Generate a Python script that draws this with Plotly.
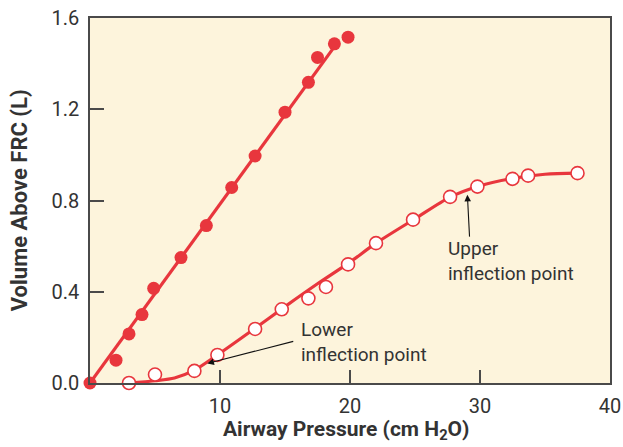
import plotly.graph_objects as go

# Filled points (first curve)
filled_pressure = [0, 2.0, 3.0, 4.0, 4.9, 7.0, 8.95, 10.9, 12.7, 15.0, 16.8, 17.5, 18.8, 19.85]
filled_volume = [0.0, 0.10, 0.215, 0.30, 0.415, 0.55, 0.69, 0.857, 0.995, 1.187, 1.318, 1.427, 1.487, 1.516]
filled_fit_pressure = [0, 19.0]
filled_fit_volume = [0, 1.49]

# Open points (second curve)
open_pressure = [3.0, 5.0, 8.03, 9.8, 12.7, 14.75, 16.8, 18.15, 19.85, 22.0, 24.85, 27.7, 29.8, 32.5, 33.7, 37.5]
open_volume = [0.0, 0.037, 0.053, 0.123, 0.237, 0.323, 0.371, 0.421, 0.52, 0.613, 0.716, 0.816, 0.861, 0.895, 0.909, 0.92]
open_fit_pressure = [3.0, 5.0, 6.5, 8.0, 9.8, 12.7, 15.0, 17.5, 20.0, 22.0, 25.0, 27.7, 30.0, 32.5, 35.0, 37.5]
open_fit_volume = [0.0, 0.01, 0.022, 0.055, 0.123, 0.24, 0.335, 0.435, 0.53, 0.613, 0.72, 0.815, 0.865, 0.897, 0.915, 0.92]

x_ticks = [10, 20, 30, 40]
y_ticks = [0.0, 0.4, 0.8, 1.2, 1.6]
y_tick_labels = ["0.0", "0.4", "0.8", "1.2", "1.6"]

RED = "#E8363D"
TXT = "#333333"
AX = "#4a4a4a"

fig = go.Figure()
fig.add_trace(go.Scatter(x=filled_fit_pressure, y=filled_fit_volume, mode="lines",
                         line=dict(color=RED, width=3.2), hoverinfo="skip"))
fig.add_trace(go.Scatter(x=open_fit_pressure, y=open_fit_volume, mode="lines",
                         line=dict(color=RED, width=3.2, shape="spline", smoothing=0.8), hoverinfo="skip"))
fig.add_trace(go.Scatter(x=filled_pressure, y=filled_volume, mode="markers", cliponaxis=False,
                         marker=dict(color=RED, size=13, line=dict(width=0))))
fig.add_trace(go.Scatter(x=open_pressure, y=open_volume, mode="markers", cliponaxis=False,
                         marker=dict(color="white", size=13, line=dict(color=RED, width=1.6))))

fig.add_annotation(x=9.03, y=0.086, ax=15.75, ay=0.184, axref="x", ayref="y", xref="x", yref="y",
                   text="", showarrow=True, arrowhead=2, arrowsize=1.2, arrowwidth=1.1, arrowcolor="#111")
fig.add_annotation(x=29.03, y=0.825, ax=29.2, ay=0.635, axref="x", ayref="y", xref="x", yref="y",
                   text="", showarrow=True, arrowhead=2, arrowsize=1.2, arrowwidth=1.1, arrowcolor="#111")
fig.add_annotation(x=16.1, y=0.293, xref="x", yref="y", xanchor="left", yanchor="top", align="left",
                   text="Lower<br>inflection point", showarrow=False,
                   font=dict(family="Roboto", size=19, color=TXT))
fig.add_annotation(x=27.4, y=0.649, xref="x", yref="y", xanchor="left", yanchor="top", align="left",
                   text="Upper<br>inflection point", showarrow=False,
                   font=dict(family="Roboto", size=19, color=TXT))

# Axis titles
fig.add_annotation(x=0.493, y=-0.087, xref="paper", yref="paper", xanchor="center", yanchor="top",
                   text="<b>Airway Pressure (cm H<sub>2</sub>O)</b>", showarrow=False,
                   font=dict(family="Roboto", size=21, color=TXT))
fig.add_annotation(x=-0.135, y=0.5, xref="paper", yref="paper", xanchor="center", yanchor="middle",
                   text="<b>Volume Above FRC (L)</b>", showarrow=False, textangle=-90,
                   font=dict(family="Roboto", size=22, color=TXT))

fig.update_layout(
    width=623, height=447,
    margin=dict(l=90, r=13, t=18, b=64, autoexpand=False),
    paper_bgcolor="white",
    plot_bgcolor="#FDF4DC",
    showlegend=False,
    font=dict(family="Roboto", color=TXT),
)
fig.update_xaxes(range=[0, 40], tickvals=x_ticks, ticks="inside", ticklen=13, tickwidth=1.5, tickcolor=AX,
                 showline=True, linecolor=AX, linewidth=1.5, mirror=True, showgrid=False, zeroline=False,
                 tickfont=dict(family="Roboto", size=20, color=TXT), ticklabelstandoff=4, automargin=False)
fig.update_yaxes(range=[0, 1.6], tickvals=y_ticks, ticktext=y_tick_labels, ticks="inside", ticklen=14,
                 tickwidth=1.5, tickcolor=AX,
                 showline=True, linecolor=AX, linewidth=1.5, mirror=True, showgrid=False, zeroline=False,
                 tickfont=dict(family="Roboto", size=20, color=TXT), ticklabelstandoff=5, automargin=False)

fig.write_html("out.html", config={"displayModeBar": False},
               post_script="document.body.style.margin='0';document.body.style.overflow='hidden';")
